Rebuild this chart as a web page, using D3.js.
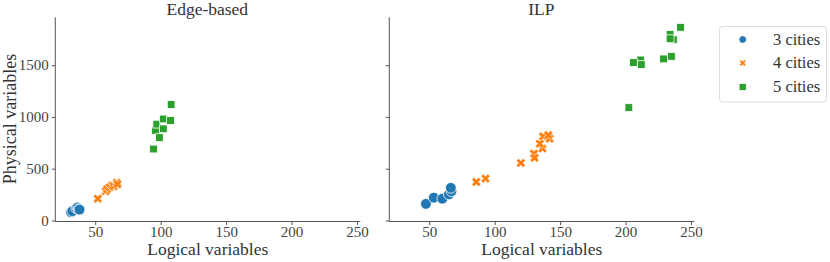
<!DOCTYPE html>
<html>
<head>
<meta charset="utf-8">
<script src="https://cdn.jsdelivr.net/npm/d3@7"></script>
<style>
  body { margin: 0; background: #fff; }
  svg { display: block; }
</style>
</head>
<body>
<svg id="chart" width="830" height="262"></svg>
<script>
// ---- data ----
const panels = ["Edge-based", "ILP"];
const seriesNames = ["3 cities", "4 cities", "5 cities"];
const xTicks = [50, 100, 150, 200, 250];
const yTicks = [0, 500, 1000, 1500];

// Edge-based
const edge3 = [[31.5, 80], [32.5, 90], [35.5, 118], [36.5, 125], [37.5, 110], [38, 105]];
const edge4 = [[52, 210], [58, 282], [59, 300], [61, 320], [63, 340], [64, 330], [66.5, 365], [67, 350]];
const edge5 = [[94.5, 690], [96, 870], [97, 930], [99, 800], [102, 885], [102, 980], [107.5, 965], [108, 1120]];
// ILP
const ilp3 = [[47.5, 160], [53.5, 220], [60, 210], [65, 252], [67, 282], [66.5, 315]];
const ilp4 = [[86, 372], [93, 405], [120, 555], [130, 645], [130.5, 605], [136.5, 695], [134.5, 742], [137, 812], [142, 790], [141, 824]];
const ilp5 = [[202.5, 1090], [211.5, 1550], [206, 1525], [212, 1505], [229, 1560], [235, 1585], [234, 1797], [236.5, 1745], [234, 1755], [242, 1865]];

const panelData = [[edge3, edge4, edge5], [ilp3, ilp4, ilp5]];
const colors = ["#1f77b4", "#ff7f0e", "#2ca02c"];

// ---- layout ----
const FONT = '"Liberation Serif", "DejaVu Serif", serif';
const svg = d3.select("#chart");
const panelX = [55.3, 389.3];
const plotW = 305;
const yTop = 17.3, yBot = 221.5;
const xDomain = [19.5, 252.5];
const yDomain = [-10, 1962];
const axisColor = "#555";

const y = d3.scaleLinear().domain(yDomain).range([yBot, yTop]);

function xPath(h) { // filled X marker, h = half extent of bbox
  const a = h, b = h / 2;
  const pts = [[b,0],[a,-a+b],[a-b,-a],[0,-b],[-a+b,-a],[-a,-a+b],[-b,0],[-a,a-b],[-a+b,a],[0,b],[a-b,a],[a,a-b]];
  return "M" + pts.map(p => p.join(",")).join("L") + "Z";
}
function drawMarker(g, si, cx, cy, sz) {
  if (si === 0) {
    g.append("circle").attr("cx", cx).attr("cy", cy).attr("r", sz)
      .attr("fill", colors[0]).attr("stroke", "#fff").attr("stroke-width", 0.8);
  } else if (si === 1) {
    g.append("path").attr("d", xPath(sz)).attr("transform", `translate(${cx},${cy})`)
      .attr("fill", colors[1]).attr("stroke", "#fff").attr("stroke-width", 0.6);
  } else {
    g.append("rect").attr("x", cx - sz / 2).attr("y", cy - sz / 2).attr("width", sz).attr("height", sz)
      .attr("fill", colors[2]).attr("stroke", "#fff").attr("stroke-width", 0.8);
  }
}
const plotSizes = [5.4, 4.6, 7.8];
const legendSizes = [3.8, 3.3, 7.2];

function txt(sel, size) {
  return sel.style("font-family", FONT).style("font-size", size + "px").style("fill", "#333");
}

panels.forEach((title, pi) => {
  const x0 = panelX[pi];
  const x = d3.scaleLinear().domain(xDomain).range([x0, x0 + plotW]);
  const g = svg.append("g");

  // x axis
  const xAxis = d3.axisBottom(x).tickValues(xTicks).tickSize(3.5).tickPadding(3).tickFormat(d3.format("d"));
  const gx = g.append("g").attr("transform", `translate(0,${yBot})`).call(xAxis);
  gx.select(".domain").attr("stroke", axisColor).attr("d", `M${x0},0H${x0 + plotW}`);
  gx.selectAll(".tick line").attr("stroke", axisColor);
  txt(gx.selectAll(".tick text"), 15).attr("dy", "0.6em").style("fill", "#444");

  // y axis
  const yAxis = d3.axisLeft(y).tickValues(yTicks).tickSize(3.5).tickPadding(3)
    .tickFormat(pi === 0 ? d3.format("d") : () => "");
  const gy = g.append("g").attr("transform", `translate(${x0},0)`).call(yAxis);
  gy.select(".domain").attr("stroke", axisColor).attr("d", `M0,${yTop}V${yBot}`);
  gy.selectAll(".tick line").attr("stroke", axisColor);
  txt(gy.selectAll(".tick text"), 15).style("fill", "#444");

  // title
  txt(g.append("text").attr("x", x0 + plotW / 2 - 0.5).attr("y", 15).attr("text-anchor", "middle"), 17.5)
    .text(title);

  // x label
  txt(g.append("text").attr("x", x0 + plotW / 2).attr("y", 255).attr("text-anchor", "middle"), 17.5)
    .text("Logical variables");

  // points
  const pg = g.append("g");
  panelData[pi].forEach((series, si) => {
    series.forEach(d => drawMarker(pg, si, x(d[0]), y(d[1]), plotSizes[si]));
  });
});

// y label
txt(svg.append("text").attr("transform", "translate(16,119) rotate(-90)").attr("text-anchor", "middle"), 18)
  .text("Physical variables");

// legend
const lg = svg.append("g");
lg.append("rect").attr("x", 719.5).attr("y", 26.5).attr("width", 107).attr("height", 75.5)
  .attr("rx", 3).attr("fill", "#fff").attr("stroke", "#ddd").attr("stroke-width", 1);
const legY = [39.5, 63, 87];
seriesNames.forEach((name, i) => {
  drawMarker(lg, i, 742.7, legY[i], legendSizes[i]);
  txt(lg.append("text").attr("x", 773).attr("y", legY[i]).attr("dy", "0.33em"), 16.5).text(name);
});
</script>
</body>
</html>
